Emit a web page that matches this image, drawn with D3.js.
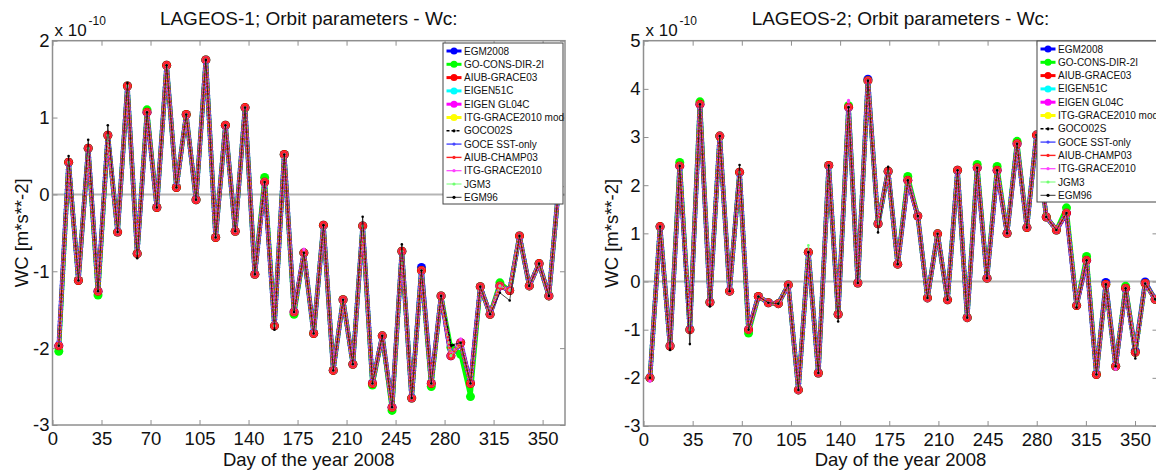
<!DOCTYPE html>
<html>
<head>
<meta charset="utf-8">
<script src="https://cdn.jsdelivr.net/npm/d3@7"></script>
<style>
  body { margin: 0; background: #fff; }
  svg { display: block; font-family: "Liberation Sans", Arial, Helvetica, sans-serif; }
</style>
</head>
<body>
<div id="chart"></div>
<script>
// Gravity field models, legend order (= drawing order)
const modelNames = ['EGM2008', 'GO-CONS-DIR-2I', 'AIUB-GRACE03', 'EIGEN51C', 'EIGEN GL04C',
  'ITG-GRACE2010 mod', 'GOCO02S', 'GOCE SST-only', 'AIUB-CHAMP03', 'ITG-GRACE2010', 'JGM3', 'EGM96'];

const dayTicks = [0, 35, 70, 105, 140, 175, 210, 245, 280, 315, 350];
const yTicks1 = [-3, -2, -1, 0, 1, 2];
const yTicks2 = [-3, -2, -1, 0, 1, 2, 3, 4, 5];

// LAGEOS-1, weekly arcs (day of year) and Wc in units of 1e-10 m/s^2
const days1 = [4.5, 11.5, 18.5, 25.5, 32.5, 39.5, 46.5, 53.5, 60.5, 67.5, 74.5, 81.5, 88.5,
  95.5, 102.5, 109.5, 116.5, 123.5, 130.5, 137.5, 144.5, 151.5, 158.5, 165.5, 172.5, 179.5,
  186.5, 193.5, 200.5, 207.5, 214.5, 221.5, 228.5, 235.5, 242.5, 249.5, 256.5, 263.5, 270.5,
  277.5, 284.5, 291.5, 298.5, 305.5, 312.5, 319.5, 326.5, 333.5, 340.5, 347.5, 354.5, 361.5];
const wc1 = [-1.97, 0.42, -1.12, 0.60, -1.26, 0.77, -0.49, 1.41, -0.77, 1.07, -0.17, 1.68,
  0.09, 1.04, -0.07, 1.75, -0.56, 0.90, -0.48, 1.13, -1.04, 0.16, -1.71, 0.52, -1.53, -0.76,
  -1.81, -0.40, -2.29, -1.37, -2.21, -0.41, -2.46, -1.84, -2.77, -0.74, -2.65, -0.99, -2.46,
  -1.32, -2.10, -1.93, -2.46, -1.20, -1.56, -1.19, -1.25, -0.54, -1.19, -0.90, -1.32, 0.10];
// where single models differ visibly from the rest: [arc index, value]
const egm2008_1 = [[37, -0.95]];
const goCons1 = [[0, -2.04], [4, -1.31], [9, 1.10], [21, 0.22], [24, -1.56], [32, -2.48],
  [34, -2.81], [38, -2.50], [40, -1.99], [41, -2.08], [42, -2.63], [45, -1.15]];
const goco1 = [[40, -1.97]];
const itgGrace1 = [[25, -0.71], [41, -1.88]];
const egm96_1 = [[1, 0.50], [3, 0.71], [5, 0.90], [7, 1.45], [8, -0.83], [22, -1.76],
  [31, -0.29], [35, -0.65], [40, -1.96], [45, -1.28], [46, -1.38]];

// LAGEOS-2
const days2 = [4.6, 11.8, 18.9, 25.8, 33.0, 40.2, 47.3, 54.3, 61.3, 68.4, 74.8, 81.8, 88.9,
  96.0, 103.1, 110.3, 117.4, 124.5, 131.9, 138.6, 146.0, 152.6, 159.8, 167.0, 174.2, 181.0,
  188.2, 195.3, 202.2, 209.4, 216.5, 223.6, 230.5, 237.6, 244.6, 251.8, 258.9, 266.0, 273.0,
  279.8, 286.8, 294.0, 301.2, 308.4, 315.5, 322.5, 329.2, 336.2, 343.3, 350.2, 357.2, 364.3];
const wc2 = [-2.00, 1.14, -1.34, 2.40, -1.00, 3.68, -0.43, 3.02, -0.20, 2.27, -1.00, -0.31,
  -0.44, -0.46, -0.07, -2.25, 0.61, -1.90, 2.41, -0.68, 3.62, -0.03, 4.17, 1.20, 2.29, 0.36,
  2.10, 1.36, -0.34, 0.99, -0.38, 2.31, -0.75, 2.36, 0.07, 2.31, 1.00, 2.86, 1.12, 3.04, 1.34,
  1.07, 1.42, -0.50, 0.44, -1.93, -0.06, -1.76, -0.14, -1.47, -0.04, -0.37];
const egm2008_2 = [[22, 4.20], [46, -0.02], [49, -1.44], [50, -0.01]];
const goCons2 = [[3, 2.47], [5, 3.73], [10, -1.07], [20, 3.65], [26, 2.18], [33, 2.43],
  [35, 2.39], [37, 2.91], [42, 1.53], [44, 0.52], [48, -0.10]];
const itgGrace2 = [[0, -2.07], [20, 3.76], [47, -1.82]];
const jgm3_2 = [[16, 0.75]];
const egm96_2 = [[2, -1.42], [4, -1.30], [6, -0.52], [9, 2.42], [19, -0.83], [23, 1.02],
  [24, 2.38], [43, -0.54], [49, -1.60]];

// line styles per model (MATLAB look)
const styles = [
  { color: '#0000ff', width: 4.5, dash: null, r: 4.5 },
  { color: '#00ff00', width: 4.5, dash: null, r: 4.5 },
  { color: '#ff0000', width: 4, dash: null, r: 4.5 },
  { color: '#00ffff', width: 3, dash: null, r: 3.5 },
  { color: '#ff00ff', width: 3, dash: null, r: 3.5 },
  { color: '#ffff00', width: 2.5, dash: null, r: 3 },
  { color: '#000000', width: 2, dash: '4,3', r: 1.6 },
  { color: '#4848ff', width: 5, dash: '1,3', r: 1.6 },
  { color: '#ff2020', width: 2, dash: null, r: 3.5 },
  { color: '#ff40ff', width: 2.5, dash: '1,2.5', r: 1.6 },
  { color: '#70ff70', width: 1, dash: '3,2,1,2', r: 1.3 },
  { color: '#000000', width: 0.7, dash: null, r: 1.3 }
];
// legend samples are drawn a bit slimmer than the plot lines
const legendWidth = [3, 3, 3, 3, 3, 3, 1.4, 1.4, 1.4, 1.2, 1, 0.8];

const panels = [
  {
    title: 'LAGEOS-1; Orbit parameters - Wc:', days: days1, base: wc1,
    overrides: { 0: egm2008_1, 1: goCons1, 6: goco1, 9: itgGrace1, 11: egm96_1 },
    yDomain: [-3, 2], yTicks: yTicks1,
    left: 52.5, right: 565, top: 40.7, bottom: 425, yLabelX: 21.5,
    legendX: 443, legendY: 43, legendW: 120
  },
  {
    title: 'LAGEOS-2; Orbit parameters - Wc:', days: days2, base: wc2,
    overrides: { 0: egm2008_2, 1: goCons2, 9: itgGrace2, 10: jgm3_2, 11: egm96_2 },
    yDomain: [-3, 5], yTicks: yTicks2,
    left: 643.5, right: 1157.5, top: 40.7, bottom: 426, yLabelX: 612,
    legendX: 1037, legendY: 41, legendW: 126
  }
];

const svg = d3.select('#chart').append('svg')
  .attr('width', 1156).attr('height', 470);

const axisColor = '#8f8f8f';
const textColor = '#111';
const fmt = d => String(d);

function drawPanel(p) {
  const x = d3.scaleLinear().domain([0, 366]).range([p.left, p.right]);
  const y = d3.scaleLinear().domain(p.yDomain).range([p.bottom, p.top]);
  const g = svg.append('g');

  // zero reference line
  g.append('line')
    .attr('x1', p.left).attr('x2', p.right)
    .attr('y1', y(0)).attr('y2', y(0))
    .attr('stroke', '#b5b5b5').attr('stroke-width', 2);

  // axes: ticks point inward, box on all four sides
  const styleAxis = sel => {
    sel.selectAll('.domain').remove();
    sel.selectAll('.tick line').attr('stroke', axisColor).attr('stroke-width', 1);
    sel.selectAll('.tick text').attr('fill', textColor).attr('font-size', '18.5px');
  };
  g.append('g').attr('transform', `translate(0,${p.bottom})`)
    .call(d3.axisBottom(x).tickValues(dayTicks).tickSize(-5).tickPadding(7).tickFormat(fmt))
    .call(styleAxis);
  g.append('g').attr('transform', `translate(0,${p.top})`)
    .call(d3.axisTop(x).tickValues(dayTicks).tickSize(-5).tickFormat(''))
    .call(styleAxis);
  g.append('g').attr('transform', `translate(${p.left},0)`)
    .call(d3.axisLeft(y).tickValues(p.yTicks).tickSize(-5).tickPadding(3).tickFormat(fmt))
    .call(styleAxis);
  g.append('g').attr('transform', `translate(${p.right},0)`)
    .call(d3.axisRight(y).tickValues(p.yTicks).tickSize(-5).tickFormat(''))
    .call(styleAxis);
  g.selectAll('.tick text').attr('font-family', null);

  g.append('rect')
    .attr('x', p.left).attr('y', p.top)
    .attr('width', p.right - p.left).attr('height', p.bottom - p.top)
    .attr('fill', 'none').attr('stroke', axisColor).attr('stroke-width', 1.5);

  // series
  const line = d3.line().x(d => x(d.day)).y(d => y(d.v));
  modelNames.forEach((name, i) => {
    const vals = p.base.slice();
    (p.overrides[i] || []).forEach(([k, v]) => { vals[k] = v; });
    const pts = vals.map((v, k) => ({ day: p.days[k], v }));
    const st = styles[i];
    const sg = g.append('g').attr('class', 'series');
    sg.append('path').datum(pts)
      .attr('d', line)
      .attr('fill', 'none')
      .attr('stroke', st.color)
      .attr('stroke-width', st.width)
      .attr('stroke-dasharray', st.dash)
      .attr('stroke-linejoin', 'round');
    sg.selectAll('circle').data(pts).enter().append('circle')
      .attr('cx', d => x(d.day)).attr('cy', d => y(d.v))
      .attr('r', st.r).attr('fill', st.color);
  });

  // title, exponent, axis labels
  const cx = (p.left + p.right) / 2;
  g.append('text').attr('x', cx).attr('y', 25)
    .attr('text-anchor', 'middle').attr('font-size', '19px').attr('fill', textColor)
    .text(p.title);
  g.append('text').attr('x', p.left + 2).attr('y', 36)
    .attr('font-size', '17px').attr('fill', textColor).text('x 10');
  g.append('text').attr('x', p.left + 36).attr('y', 25)
    .attr('font-size', '12px').attr('fill', textColor).text('-10');
  g.append('text').attr('x', cx).attr('y', 466)
    .attr('text-anchor', 'middle').attr('font-size', '18.5px').attr('fill', textColor)
    .text('Day of the year 2008');
  g.append('text')
    .attr('transform', `translate(${p.yLabelX},${(p.top + p.bottom) / 2}) rotate(-90)`)
    .attr('text-anchor', 'middle').attr('dy', '0.35em')
    .attr('font-size', '18.5px').attr('fill', textColor)
    .text('WC [m*s**-2]');

  // legend
  const rowH = 13.3;
  const lg = g.append('g').attr('transform', `translate(${p.legendX},${p.legendY})`);
  lg.append('rect')
    .attr('width', p.legendW).attr('height', 161)
    .attr('fill', '#fff').attr('stroke', '#444').attr('stroke-width', 1);
  modelNames.forEach((name, i) => {
    const st = styles[i];
    const ry = 8 + i * rowH;
    lg.append('line')
      .attr('x1', 3.5).attr('x2', 18.5).attr('y1', ry).attr('y2', ry)
      .attr('stroke', st.color).attr('stroke-width', legendWidth[i])
      .attr('stroke-dasharray', i === 6 ? '3,2' : null);
    lg.append('circle').attr('cx', 11).attr('cy', ry)
      .attr('r', i < 6 ? 3.5 : 1.6).attr('fill', st.color);
    lg.append('text').attr('x', 21).attr('y', ry).attr('dy', '0.35em')
      .attr('font-size', '10px').attr('fill', textColor).text(name);
  });
}

panels.forEach(drawPanel);
</script>
</body>
</html>
